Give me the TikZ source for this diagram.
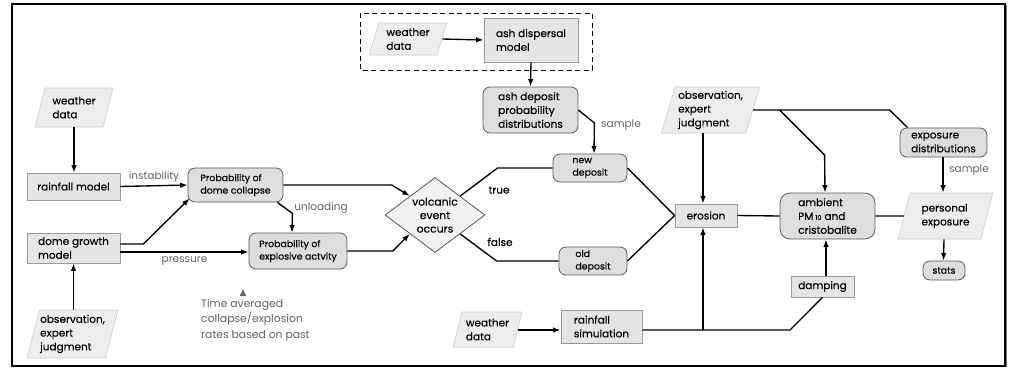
\documentclass[tikz,border=0pt]{standalone}
\usepackage{fontspec}
\setmainfont{Poppins}[UprightFeatures={FakeBold=0.25}]
\newfontfamily\lightfont{Poppins}
\newfontfamily\symfont{DejaVu Sans}
\usetikzlibrary{shapes.geometric,arrows.meta,calc}
\definecolor{lblgray}{gray}{0.38}
\begin{document}
\begin{tikzpicture}[x=1pt,y=-1pt,
  txt/.style={font=\fontsize{10.5}{13.8}\selectfont, align=left, inner sep=0.5pt, text=black},
  small/.style={font=\fontsize{9.4}{12.5}\selectfont},
  sz/.style 2 args={minimum width=#1pt, minimum height=#2pt},
  rbox/.style={txt, rectangle, draw=black!40, fill=black!10, line width=0.8pt},
  rrbox/.style={txt, rectangle, rounded corners=7pt, draw=black!65, fill=black!13, line width=0.8pt},
  para/.style={txt, trapezium, trapezium left angle=72, trapezium right angle=108,
     trapezium stretches=true, draw=black!20, fill=black!7, line width=0.6pt},
  lbl/.style={font=\lightfont\fontsize{10.5}{12}\selectfont, text=lblgray, inner sep=1pt},
  conn/.style={line width=1.35pt, black},
  arr/.style={conn, -{Latex[length=7.5pt,width=5.5pt]}}
]
\useasboundingbox (0,0) rectangle (1012,370);
\draw[line width=1.1pt] (12,4) rectangle (1005,366);
\draw[line width=1.2pt, black!55] (1006.5,5) -- (1006.5,367);

% dashed group
\draw[line width=0.9pt, dashed, dash pattern=on 5pt off 3.5pt] (360,13) rectangle (592,70);

% left column
\node[para, sz={78}{39}] (wd1) at (74,107.5) {weather\\data};
\node[rbox, sz={93}{27}] (rain) at (73.5,186.5) {rainfall model};
\node[rbox, sz={93}{30}] (dome) at (73.5,248) {dome growth\\model};
\node[para, sz={89}{48}] (obs1) at (72.5,334) {observation,\\expert\\judgment};

\node[rrbox, small, sz={95}{34}] (pcol) at (235.5,185) {Probability of\\dome collapse};
\node[rrbox, small, sz={98}{36}] (pexp) at (298,251) {Probability of\\explosive actvity};

\node[text=black!60, inner sep=0pt, font=\symfont\fontsize{9}{9}\selectfont] (tri) at (243,293) {▲};
\node[lbl, align=left, anchor=north west, font=\lightfont\fontsize{10.8}{15.5}\selectfont] (tav) at (200,298) {Time averaged\\collapse/explosion\\rates based on past};

% middle
\node[para, sz={78}{32}] (wd2) at (408,39) {weather\\data};
\node[rbox, sz={94}{44}] (ashd) at (531,40) {ash dispersal\\model};
\node[rrbox, sz={95}{46}] (ashp) at (530.5,110) {ash deposit\\probability\\distributions};
\node[rrbox, small, sz={74}{28}] (newd) at (590,168) {new\\deposit};
\node[rrbox, small, sz={68}{28}] (oldd) at (593,261) {old\\deposit};
\node[txt, diamond, align=center, draw=black!65, fill=black!5, line width=0.8pt, inner sep=0pt,
      sz={100}{75}, aspect=1.33, font=\fontsize{10.8}{13.5}\selectfont] (volc) at (435,215) {volcanic\\event\\occurs};
\node[para, sz={69}{35}] (wd3) at (487.5,329.5) {weather\\data};
\node[rbox, sz={81}{33}] (rsim) at (601.5,326.5) {rainfall\\simulation};

% right
\node[para, sz={99}{46}] (obs2) at (710.5,110) {observation,\\expert\\judgment};
\node[rbox, sz={62}{23}] (eros) at (706,215.5) {erosion};
\node[rrbox, sz={95}{46}, rounded corners=10pt] (amb) at (827.5,216) {ambient\\PM\hspace{2pt}{\fontsize{6.5}{6.5}\selectfont 10}\hspace{3pt}and\\cristobalite};
\node[para, sz={95}{46}] (pers) at (945.5,216) {personal\\exposure};
\node[rrbox, sz={87}{29}] (expd) at (943.5,142.5) {exposure\\distributions};
\node[rrbox, small, sz={42}{19}] (stats) at (944,270.5) {stats};
\node[rbox, sz={63}{21}] (damp) at (822.5,286.5) {damping};

% connectors left
\draw[arr] (wd1.south) -- (wd1.south |- rain.north);
\draw[arr] (rain.east) -- (pcol.west) node[lbl, midway, above=2pt] (linst) {instability};
\draw[arr] ([yshift=4pt]dome.east) -- ++(23,0) -- ([xshift=2pt,yshift=4pt]pcol.south west);
\draw[arr] ([yshift=-4pt]dome.east) -- ([yshift=-4pt]dome.east -| pexp.west)
   node[lbl, pos=0.5, below=3pt] (lpres) {pressure};
\draw[arr] (obs1.north -| dome.south) -- (dome.south);
\draw[arr] ([xshift=-6pt]pcol.south east) -- ++(15,11) -- ([xshift=-6pt]pexp.north);
\node[lbl] (lunl) at (321,208) {unloading};
\draw[arr] (pcol.east) -- ([xshift=-18pt]volc.north west |- pcol.east) -- (volc.north west);
\draw[arr] (pexp.east) -- ([xshift=-17pt]volc.south west |- pexp.east) -- (volc.south west);

% middle connectors
\draw[arr] (wd2.east) -- (ashd.west);
\draw[arr] (ashd.south) -- (ashp.north);
\draw[arr] (ashp.east) -- ++(16,13) -- ([xshift=4pt]newd.north);
\node[lbl] (lsam1) at (621,125) {sample};
\draw[conn] (volc.north east) -- ([xshift=-55pt]newd.west) -- (newd.west);
\node[txt, font=\fontsize{10.5}{12}\selectfont] (ltrue) at (499,190) {true};
\draw[conn] (volc.south east) -- ([xshift=-62pt]oldd.west) -- (oldd.west);
\node[txt, font=\fontsize{10.5}{12}\selectfont] (lfalse) at (500,242) {false};
\draw[conn] (newd.east) -- (eros.west);
\draw[conn] (oldd.east) -- (eros.west);
\draw[arr] (wd3.east |- 0,330) -- (rsim.west |- 0,330);

% right connectors
\coordinate (j3) at (790,330);
\draw[conn] (rsim.east |- j3) -- (j3) -- (damp.south);
\draw[arr] ([xshift=-3pt]eros.south |- j3) -- ([xshift=-3pt]eros.south);
\draw[arr] ([xshift=-3pt]eros.north |- obs2.south) -- ([xshift=-3pt]eros.north);
\coordinate (j1) at (amb.north west |- obs2.east);
\coordinate (j2) at ([xshift=-10pt]expd.north west |- obs2.east);
\draw[conn] (obs2.east) -- (j2) -- ([xshift=8pt]expd.north west);
\draw[arr] (j1) -- ++(45,45) -- ([xshift=-2.5pt]amb.north);
\draw[conn] (eros.east) -- (amb.west);
\draw[conn] (amb.east) -- (pers.west);
\draw[arr] ([xshift=-0.5pt]expd.south) -- ([xshift=-0.5pt]expd.south |- pers.north);
\node[lbl] (lsam2) at (969,170) {sample};
\draw[arr] ([xshift=-1.5pt]pers.south) -- ([xshift=-0.5pt]stats.north);
\draw[arr] ([xshift=3.5pt]damp.north) -- ([xshift=3.5pt]damp.north |- amb.south);
\end{tikzpicture}
\end{document}
